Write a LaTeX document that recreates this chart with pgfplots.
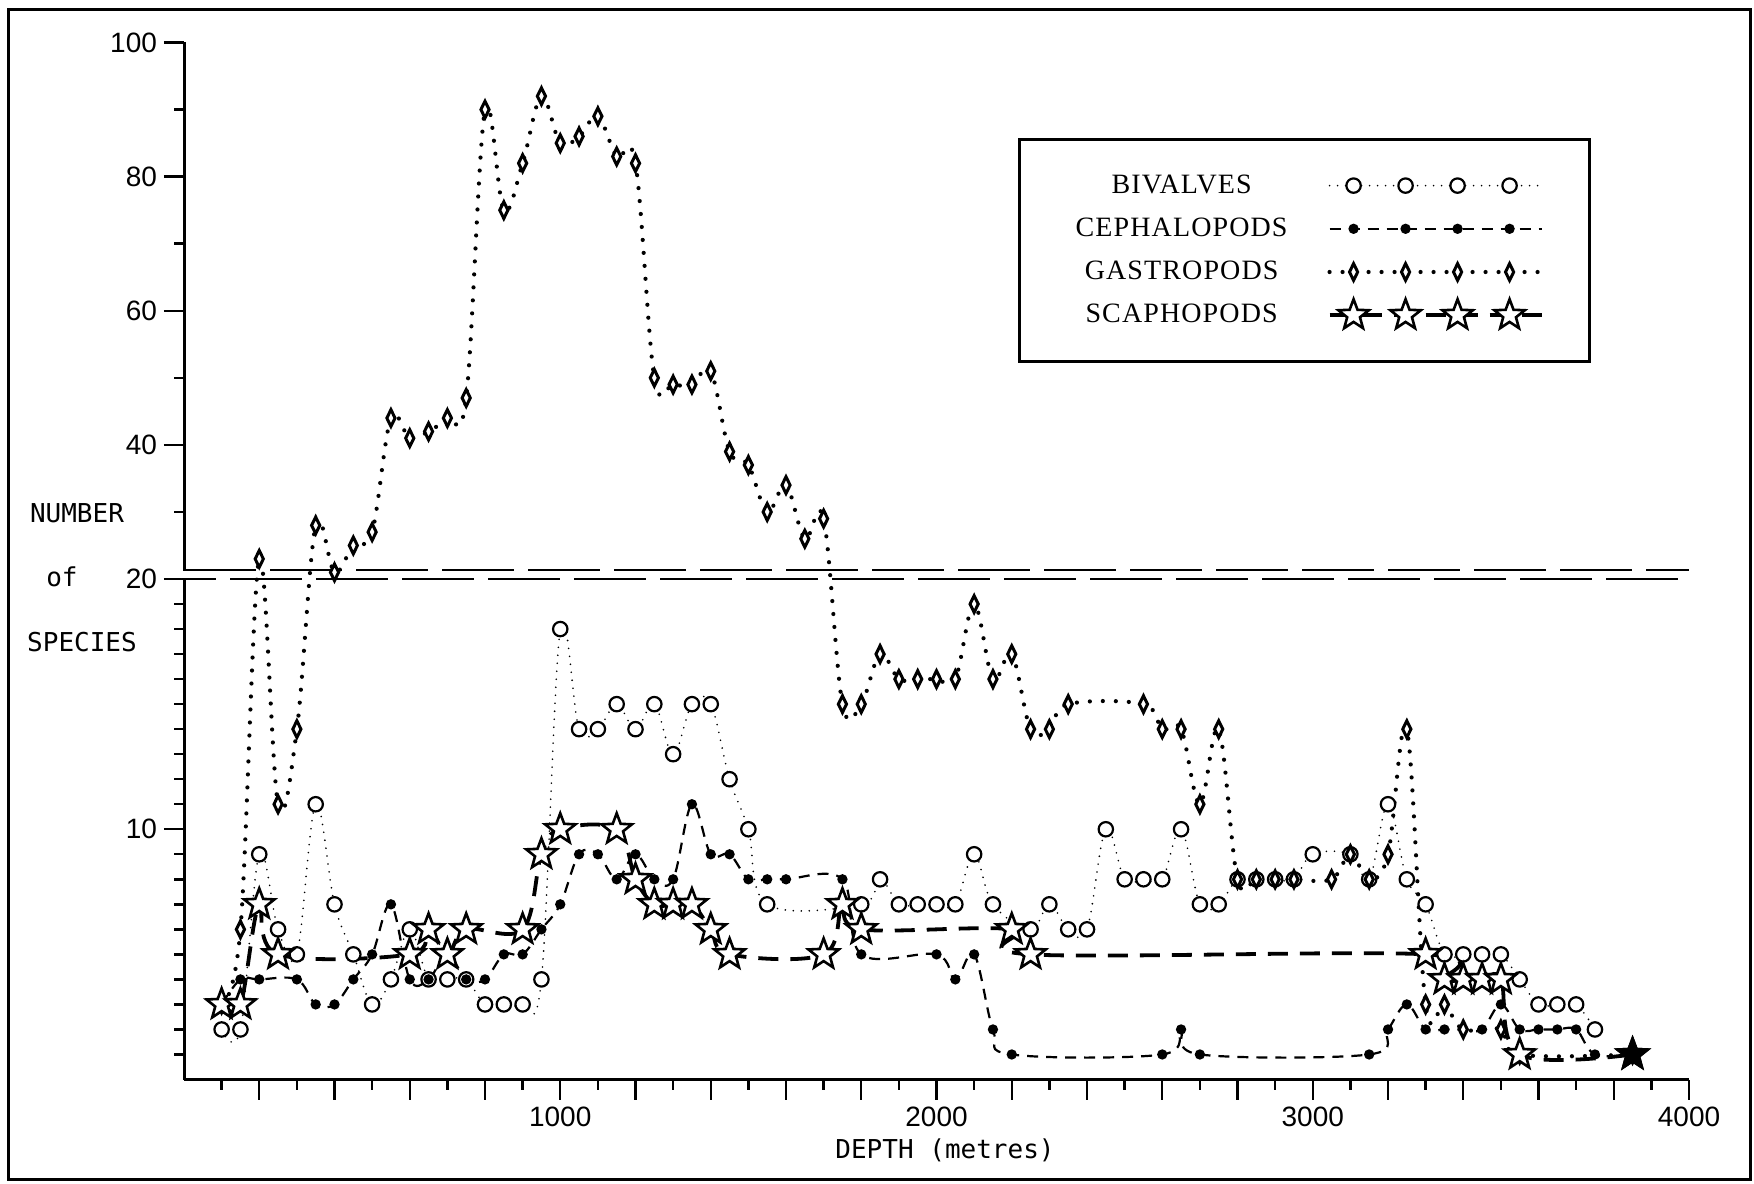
\documentclass[border=0pt]{standalone}
\usepackage{pgfplots}
\usepackage{pgfplotstable}
\pgfplotsset{compat=1.18}
\usepackage{fontspec}
\setmainfont{Liberation Serif}
\newfontfamily\tickfont{Liberation Sans}
\newfontfamily\labfont{DejaVu Sans Mono}
\newfontfamily\legfont[LetterSpace=4]{Liberation Serif}

\pgfdeclareplotmark{ostar}{%
  \pgfpathmoveto{\pgfqpoint{0pt}{\pgfplotmarksize}}%
  \pgfpathlineto{\pgfqpoint{-0.2469\pgfplotmarksize}{0.3398\pgfplotmarksize}}%
  \pgfpathlineto{\pgfqpoint{-0.9511\pgfplotmarksize}{0.3090\pgfplotmarksize}}%
  \pgfpathlineto{\pgfqpoint{-0.3995\pgfplotmarksize}{-0.1298\pgfplotmarksize}}%
  \pgfpathlineto{\pgfqpoint{-0.5878\pgfplotmarksize}{-0.8090\pgfplotmarksize}}%
  \pgfpathlineto{\pgfqpoint{0pt}{-0.42\pgfplotmarksize}}%
  \pgfpathlineto{\pgfqpoint{0.5878\pgfplotmarksize}{-0.8090\pgfplotmarksize}}%
  \pgfpathlineto{\pgfqpoint{0.3995\pgfplotmarksize}{-0.1298\pgfplotmarksize}}%
  \pgfpathlineto{\pgfqpoint{0.9511\pgfplotmarksize}{0.3090\pgfplotmarksize}}%
  \pgfpathlineto{\pgfqpoint{0.2469\pgfplotmarksize}{0.3398\pgfplotmarksize}}%
  \pgfpathclose
  \pgfusepathqfillstroke
}

\pgfplotsset{
  mylegend/.style={legend image code/.code={%
     \path[draw=none,fill=none,use as bounding box] (-6pt,-8pt) rectangle (98pt,8pt);
     \draw[##1] (-6pt,0pt) -- (100pt,0pt);
     \draw[##1,only marks] plot coordinates {(6pt,0pt) (32pt,0pt) (58pt,0pt) (84pt,0pt)};
  }},
}

\pgfplotstableread{
x y
100 2
150 2
200 9
250 6
300 5
350 11
400 7
450 5
500 3
550 4
600 6
650 4
700 4
750 4
800 3
850 3
900 3
950 4
1000 18
1050 14
1100 14
1150 15
1200 14
1250 15
1300 13
1350 15
1400 15
1450 12
1500 10
1550 7
1800 7
1850 8
1900 7
1950 7
2000 7
2050 7
2100 9
2150 7
2250 6
2300 7
2350 6
2400 6
2450 10
2500 8
2550 8
2600 8
2650 10
2700 7
2750 7
2800 8
2850 8
2900 8
2950 8
3000 9
3100 9
3150 8
3200 11
3250 8
3300 7
3350 5
3400 5
3450 5
3500 5
3550 4
3600 3
3650 3
3700 3
3750 2
}\bivalves

\pgfplotstableread{
x y
100 3
150 4
200 4
300 4
350 3
400 3
450 4
500 5
550 7
600 4
650 4
700 5
750 4
800 4
850 5
900 5
950 6
1000 7
1050 9
1100 9
1150 8
1200 9
1250 8
1300 8
1350 11
1400 9
1450 9
1500 8
1550 8
1600 8
1750 8
1800 5
2000 5
2050 4
2100 5
2150 2
2200 1
2600 1
2650 2
2700 1
3150 1
3200 2
3250 3
3300 2
3350 2
3400 2
3450 2
3500 3
3550 2
3600 2
3650 2
3700 2
3750 1
3850 1
}\cephalopods

\pgfplotstableread{
x y
100 3
150 6
200 23
250 11
300 14
350 28
400 21
450 25
500 27
550 44
600 41
650 42
700 44
750 47
800 90
850 75
900 82
950 92
1000 85
1050 86
1100 89
1150 83
1200 82
1250 50
1300 49
1350 49
1400 51
1450 39
1500 37
1550 30
1600 34
1650 26
1700 29
1750 15
1800 15
1850 17
1900 16
1950 16
2000 16
2050 16
2100 19
2150 16
2200 17
2250 14
2300 14
2350 15
2550 15
2600 14
2650 14
2700 11
2750 14
2800 8
2850 8
2900 8
2950 8
3050 8
3100 9
3150 8
3200 9
3250 14
3300 3
3350 3
3400 2
3500 2
3550 1
3850 1
}\gastropods

\pgfplotstableread{
x y
100 3
150 3
200 7
250 5
600 5
650 6
700 5
750 6
900 6
950 9
1000 10
1150 10
1200 8
1250 7
1300 7
1350 7
1400 6
1450 5
1700 5
1750 7
1800 6
2200 6
2250 5
3300 5
3350 4
3400 4
3450 4
3500 4
3550 1
3850 1
}\scaphopods

\begin{document}
\begin{tikzpicture}
\useasboundingbox (0pt,0pt) rectangle (877pt,591.5pt);
\draw[line width=1.5pt] (4pt,2pt) rectangle (875pt,586.5pt);
\begin{axis}[
  at={(92pt,51.75pt)}, anchor=south west,
  scale only axis, width=752.5pt, height=518.5pt,
  xmin=0, xmax=4000, ymin=0, ymax=100,
  y coord trafo/.code={\pgfmathparse{(#1>20)?(20+(#1-20)*0.268):(#1)}},
  y coord inv trafo/.code={\pgfmathparse{(#1>20)?(20+(#1-20)/0.268):(#1)}},
  axis x line*=bottom, axis y line*=left,
  axis line style={line width=1.5pt, -},
  tick align=outside,
  major tick length=10pt, minor tick length=5pt,
  tick style={line width=1.2pt, black},
  xtick={200,400,...,4000},
  xticklabels={,,,,1000,,,,,2000,,,,,3000,,,,,4000},
  minor xtick={100,300,...,3900},
  ytick={10,20,40,60,80,100},
  yticklabels={10,20,40,60,80,100},
  minor ytick={1,2,3,4,5,6,7,8,9,11,12,13,14,15,16,17,18,19,30,50,70,90},
  tick label style={font=\tickfont\fontsize{14}{14}\selectfont},
  xticklabel shift=0pt,
  clip=false,
  legend plot pos=right,
  legend cell align=center,
  legend style={at={(0.5542,0.9079)}, anchor=north west, draw=black, line width=1.6pt, fill=white,
    inner xsep=26pt, inner ysep=15pt, row sep=5.6pt, column sep=19pt,
    font=\legfont\fontsize{14}{14}\selectfont},
]
\draw[line width=1pt, dash pattern=on 36pt off 7pt] (axis cs:0,21.33) -- (axis cs:4000,21.33);
\draw[line width=1pt, dash pattern=on 36pt off 7pt, dash phase=20pt] (axis cs:0,20) -- (axis cs:4000,20);
\draw[white, line width=3pt] (axis cs:0,20.12) -- (axis cs:0,21.2);

\addplot[mylegend, smooth, tension=0.6, line width=0.9pt, line cap=round, dash pattern=on 0pt off 4pt,
  mark=*, mark size=3.6pt, mark options={solid, fill=white, draw=black, line width=1.1pt}]
  table[x=x,y=y] {\bivalves};
\addlegendentry{BIVALVES}
\addplot[mylegend, smooth, tension=0.6, line width=1.1pt, dash pattern=on 5.5pt off 4pt,
  mark=*, mark size=2pt, mark options={solid, fill=black}]
  table[x=x,y=y] {\cephalopods};
\addlegendentry{CEPHALOPODS}
\addplot[mylegend, smooth, tension=0.6, line width=2.1pt, line cap=round, dash pattern=on 0pt off 6.5pt,
  mark=diamond*, mark size=4.2pt, mark options={solid, fill=white, draw=black, line width=1.5pt, xscale=0.65}]
  table[x=x,y=y] {\gastropods};
\addlegendentry{GASTROPODS}
\addplot[mylegend, smooth, tension=0.6, line width=1.9pt, dash pattern=on 10pt off 6pt,
  mark=ostar, mark size=8pt, mark options={solid, fill=white, draw=black, line width=1.3pt}]
  table[x=x,y=y] {\scaphopods};
\addlegendentry{SCAPHOPODS}
\addplot[forget plot, only marks, mark=ostar, mark size=8pt, mark options={solid, fill=black, draw=black, line width=1.3pt}]
  coordinates {(3850,1)};
\end{axis}
\node[font=\labfont\fontsize{13}{13}\selectfont] at (472.5pt,16.5pt) {DEPTH (metres)};
\node[font=\labfont\fontsize{13}{13}\selectfont] at (38.5pt,335pt) {NUMBER};
\node[font=\labfont\fontsize{13}{13}\selectfont] at (31pt,303pt) {of};
\node[font=\labfont\fontsize{13}{13}\selectfont] at (41pt,270.5pt) {SPECIES};
\end{tikzpicture}
\end{document}
